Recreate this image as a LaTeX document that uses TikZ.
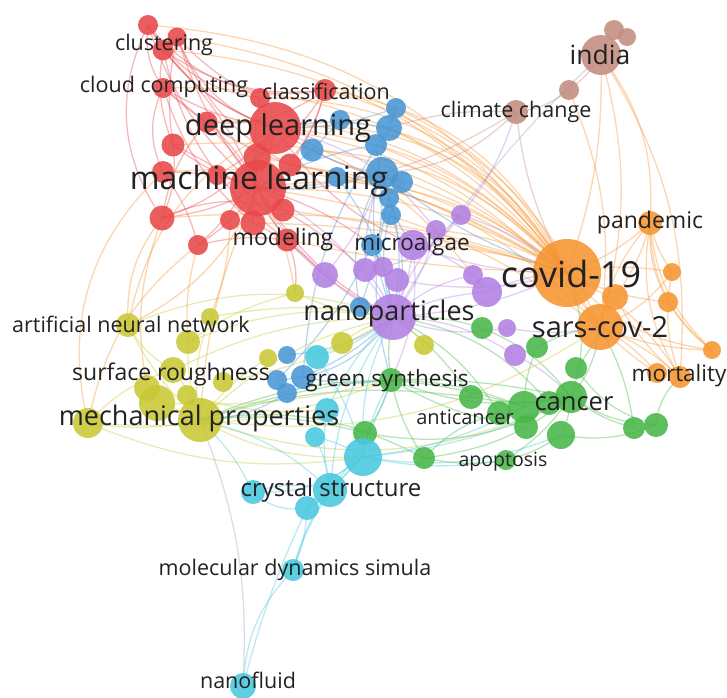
\documentclass[tikz,border=0pt]{standalone}
\usepackage{fontspec}
\setmainfont{Open Sans}
\usetikzlibrary{backgrounds}
\definecolor{vred}{RGB}{232,72,74}
\definecolor{vblue}{RGB}{72,150,212}
\definecolor{vpurple}{RGB}{178,128,226}
\definecolor{vorange}{RGB}{246,148,48}
\definecolor{vbrown}{RGB}{196,140,128}
\definecolor{vgreen}{RGB}{72,182,72}
\definecolor{vyellow}{RGB}{200,200,52}
\definecolor{vcyan}{RGB}{72,200,222}
\definecolor{vtext}{RGB}{34,34,34}
\definecolor{vgrey}{RGB}{150,170,190}

\tikzset{
  bub/.style 2 args={circle, inner sep=0pt, minimum size=#2, fill=#1, fill opacity=0.88},
  edge/.style={draw=#1, draw opacity=0.38, line width=1.3pt},
  lbl/.style={text=vtext, inner sep=0pt, font=\fontsize{#1}{#1}\selectfont},
}

\begin{document}
\begin{tikzpicture}[x=1pt, y=-1pt]
  \useasboundingbox (0,0) rectangle (727,697);

  % bubbles: name/x/y/diameter/colour
  \foreach \n/\x/\y/\d/\c in {
      r1/148/25/20/vred, r2/177/37/19/vred, clus/163/50/21/vred,
      cloud/163/88/20/vred, cls1/260/98/20/vred, cls/325/90/22/vred,
      r3/207/122/21/vred, r4/173/145/23/vred, r5/163/172/22/vred,
      r6/217/175/20/vred, r7/162/218/25/vred, r8/230/220/20/vred,
      r9/253/223/25/vred, r10/290/165/23/vred, r11/283/210/23/vred,
      r12/198/245/20/vred, mod/287/240/23/vred, r13/257/157/27/vred,
      dl/275/128/52/vred, ml/258/188/56/vred,
      b1/396/108/20/vblue, b2/389/128/26/vblue, b3/376/145/22/vblue,
      b4/382/173/32/vblue, b5/402/182/22/vblue, b6/389/198/20/vblue,
      b7/391/215/20/vblue, b8/372/245/22/vblue, b9/312/150/23/vblue,
      b10/340/120/20/vblue, b11/337/177/20/vblue, b12/360/307/20/vblue,
      b13/287/355/18/vblue, b14/277/380/20/vblue, b15/287/393/20/vblue,
      b16/303/377/24/vblue,
      p1/461/215/20/vpurple, p2/436/230/20/vpurple, p3/325/275/26/vpurple,
      p4/365/270/24/vpurple, p5/383/267/20/vpurple, p6/397/280/24/vpurple,
      p7/473/275/20/vpurple, p8/487/292/30/vpurple, p9/507/328/18/vpurple,
      p10/515/355/22/vpurple, malg/413/245/30/vpurple, nano/393/317/46/vpurple,
      o1/615/297/26/vorange, pand/650/223/24/vorange, o2/672/272/18/vorange,
      o3/668/302/20/vorange, o4/712/350/18/vorange, mort/680/377/22/vorange,
      o5/657/373/20/vorange, sars/600/327/46/vorange, cov/567/273/68/vorange,
      n1/614/30/20/vbrown, n2/627/37/18/vbrown, ind/601/55/40/vbrown,
      n3/569/90/20/vbrown, clim/516/112/24/vbrown,
      g1/524/407/32/vgreen, g2/549/403/24/vgreen, g3/561/435/28/vgreen,
      g4/526/427/24/vgreen, g5/576/368/22/vgreen, g6/537/347/22/vgreen,
      g7/482/328/22/vgreen, g8/471/397/24/vgreen, g9/499/413/24/vgreen,
      g10/634/428/22/vgreen, g11/656/425/24/vgreen, g12/424/458/22/vgreen,
      apop/506/460/20/vgreen, gsyn/391/380/24/vgreen, g13/365/433/24/vgreen,
      can/571/397/32/vgreen,
      y1/128/325/24/vyellow, y2/188/342/24/vyellow, y3/210/317/18/vyellow,
      y4/295/293/18/vyellow, y5/173/370/26/vyellow, y6/147/388/26/vyellow,
      y7/157/403/36/vyellow, y8/187/395/20/vyellow, y9/88/423/30/vyellow,
      y10/223/382/20/vyellow, y11/268/358/18/vyellow, y12/342/343/22/vyellow,
      y13/424/345/20/vyellow, mech/200/420/44/vyellow,
      c1/317/357/24/vcyan, c2/327/410/24/vcyan, c3/315/437/20/vcyan,
      c4/363/457/38/vcyan, c5/253/492/24/vcyan, c6/307/508/24/vcyan,
      cry/330/490/34/vcyan, mds/293/570/22/vcyan, nfl/243/686/26/vcyan}
    \node[bub={\c}{\d pt}] (\n) at (\x,\y) {};

  % links
  \begin{scope}[on background layer]
    \foreach \a/\b/\c/\k in {
        r1/ml/vred/-15, r1/dl/vred/-20, r2/ml/vred/-10, r2/dl/vred/-25,
        clus/ml/vred/10, clus/dl/vred/-15, clus/cls/vred/-20, r1/cls1/vred/-25,
        cloud/ml/vred/10, cloud/dl/vred/-10, r1/cloud/vred/-20, r2/cls1/vred/-10,
        r1/r7/vred/-30, clus/r4/vred/-15, r3/ml/vred/10, r4/ml/vred/-10,
        r5/ml/vred/10, r7/ml/vred/-10, r7/dl/vred/-20, r12/ml/vred/-10,
        mod/ml/vred/10, cls/ml/vred/20, cls1/ml/vred/-10, dl/ml/vred/0,
        r4/r7/vred/15, r5/r12/vred/10, cloud/r5/vred/-25, r6/dl/vred/-10,
        r13/cls/vred/-15, r10/cls/vred/-10, r11/dl/vred/20, r9/dl/vred/15,
        r2/r4/vred/-10, clus/mod/vred/-20, cloud/r9/vred/-15, r3/cls/vred/-20,
        r1/cls/vred/-30, r2/r10/vred/-20, cloud/r10/vred/-10, r7/r11/vred/20,
        r4/mod/vred/15, r12/mod/vred/10, r3/r7/vred/-15, r13/r12/vred/15,
        ml/nano/vred/-15, mod/nano/vred/-10, r9/p3/vred/10, dl/malg/vred/-15,
        ml/b8/vred/10, dl/b5/vred/-10, mod/y4/vred/15, r11/p4/vred/5,
        r7/y1/vorange/-20, r12/y2/vorange/-10, r5/y9/vorange/-30, r8/y3/vorange/10,
        r7/y6/vorange/-15, ml/mech/vorange/-10, r12/y9/vorange/-20, dl/y1/vorange/-25,
        cov/ml/vorange/-15, cov/ml/vorange/-24, cov/dl/vorange/-22, cov/dl/vorange/-32,
        cov/cls/vorange/-28, cov/cls1/vorange/-30, cov/b1/vorange/-18, cov/b2/vorange/-15,
        cov/r10/vorange/-14, cov/clus/vorange/-24, cov/r13/vorange/-10, sars/ml/vorange/-14,
        sars/dl/vorange/-22, cov/b4/vorange/-10, cov/r11/vorange/-5, cov/mod/vorange/5,
        cov/r3/vorange/-26, cov/b9/vorange/-22, p8/dl/vorange/-15, cov/cloud/vorange/-26,
        cov/r4/vorange/-22, cov/r5/vorange/-18, cov/r7/vorange/-12, cov/b10/vorange/-26,
        cov/r9/vorange/-8, sars/r10/vorange/-18, cov/r1/vorange/-26, cov/r2/vorange/-22,
        sars/cls/vorange/-26, cov/b3/vorange/-12, cov/malg/vorange/-8, cov/p2/vorange/-12,
        ind/cov/vorange/10, ind/sars/vorange/15, n3/sars/vorange/15, ind/nano/vgrey/-8,
        ind/pand/vorange/20, ind/mort/vorange/18,
        pand/cov/vorange/10, pand/sars/vorange/-15, pand/o2/vorange/-10, pand/o3/vorange/-15,
        pand/mort/vorange/-20, o4/sars/vorange/10, o4/pand/vorange/20, mort/sars/vorange/-10,
        o5/sars/vorange/-10, o2/cov/vorange/-10, o3/cov/vorange/10, o3/o4/vorange/-10,
        o2/mort/vorange/-15, o1/mort/vorange/-10, pand/o1/vorange/10, o4/cov/vorange/20,
        pand/o4/vorange/-25, o2/sars/vorange/15, o5/cov/vorange/15, mort/cov/vorange/-15,
        ind/n3/vbrown/10, n3/clim/vbrown/15, clim/b4/vbrown/20, clim/p1/vpurple/10,
        clim/b2/vbrown/-10, clim/cov/vbrown/-10, clim/ml/vbrown/15,
        b4/ml/vblue/10, b2/dl/vblue/-10, b1/dl/vblue/10, b4/nano/vblue/15,
        b8/nano/vblue/10, b13/nano/vblue/-15, b16/nano/vblue/-10, b3/ml/vblue/-10,
        b5/nano/vblue/-20, b6/malg/vblue/-10, b7/nano/vblue/20, b9/b4/vblue/-10,
        b14/nano/vblue/-25, b15/mech/vblue/15, b12/b4/vblue/20, b11/nano/vblue/15,
        b4/cov/vblue/-10, b2/b16/vblue/-15, b1/nano/vblue/-20, b6/gsyn/vblue/-15,
        b16/gsyn/vblue/-10, b3/b12/vblue/15, b10/ml/vblue/10, b8/b14/vblue/10,
        malg/nano/vpurple/10, p1/nano/vpurple/-15, p2/nano/vpurple/10, p3/nano/vpurple/-10,
        p1/cov/vpurple/10, p8/cov/vpurple/10, malg/cov/vpurple/-10, nano/cov/vpurple/-10,
        p3/ml/vpurple/10, nano/ml/vpurple/-15, p4/b4/vpurple/10, p7/malg/vpurple/-10,
        p9/nano/vpurple/15, p10/nano/vpurple/-15, p6/cov/vpurple/-12, p5/p1/vpurple/-20,
        p8/nano/vpurple/-10, p10/can/vpurple/10, p9/sars/vpurple/-10, malg/gsyn/vpurple/15,
        p4/nano/vpurple/10, p7/nano/vpurple/-15, p3/b4/vpurple/-10, p2/dl/vpurple/-20,
        can/sars/vgreen/-15, can/cov/vgreen/-20, g1/can/vgreen/10, g3/can/vgreen/-10,
        gsyn/nano/vgreen/10, gsyn/can/vgreen/-15, g13/can/vgreen/-20, g12/can/vgreen/-15,
        apop/can/vgreen/-10, g10/can/vgreen/10, g11/can/vgreen/15, g11/mort/vgreen/20,
        g10/sars/vgreen/-10, g8/nano/vgreen/-10, can/mech/vgreen/-15, g13/mech/vgreen/-10,
        g7/nano/vgreen/-10, g6/sars/vgreen/10, g5/sars/vgreen/-10, g9/nano/vgreen/-15,
        g4/gsyn/vgreen/10, g2/nano/vgreen/-20, g8/mech/vgreen/-12, g12/mech/vgreen/-18,
        g1/gsyn/vgreen/-10, g3/apop/vgreen/10, g9/g12/vgreen/-15, g8/can/vgreen/-10,
        g7/can/vgreen/15, g6/g1/vgreen/-10, g5/g11/vgreen/-20, g12/gsyn/vgreen/10,
        apop/g12/vgreen/10, g3/g11/vgreen/-15, g13/gsyn/vgreen/-10, g1/mech/vgreen/-20,
        mech/y1/vyellow/10, y9/mech/vyellow/-10, y5/mech/vyellow/10, y6/mech/vyellow/-10,
        mech/nano/vyellow/15, y4/nano/vyellow/-10, y4/ml/vorange/-10, y1/ml/vorange/-20,
        y12/nano/vyellow/10, y13/nano/vyellow/-10, mech/c4/vyellow/-15, y2/nano/vyellow/15,
        y3/nano/vyellow/10, y2/mech/vyellow/-10, y9/y5/vyellow/15, y1/nano/vyellow/20,
        y11/mech/vyellow/-10, y10/nano/vyellow/-10, mech/sars/vyellow/-20, y9/gsyn/vyellow/-12,
        y1/y5/vyellow/-15, y7/gsyn/vyellow/-8, y5/nano/vyellow/12, y3/mech/vyellow/-15,
        mech/can/vyellow/-22, y2/y4/vyellow/10, y8/c2/vyellow/-10, y9/c4/vyellow/-15,
        cry/c4/vcyan/0, cry/c6/vcyan/10, cry/c5/vcyan/-15, c6/mds/vcyan/10,
        cry/mds/vcyan/-10, c4/mds/vcyan/-15, mds/nfl/vcyan/-20, nfl/mech/vgrey/-12,
        c4/can/vcyan/-10, c4/gsyn/vcyan/10, c1/nano/vcyan/-10, c2/nano/vcyan/10,
        c4/nano/vcyan/15, c5/c4/vcyan/-20, c3/cry/vcyan/10, c4/g1/vcyan/-10,
        cry/mech/vcyan/-15, c4/apop/vcyan/-10, c1/c4/vcyan/10, c2/cry/vcyan/-10,
        c5/c6/vcyan/-25, c6/c4/vcyan/10, cry/nano/vcyan/15, c4/g3/vcyan/-15,
        c5/mech/vcyan/-10, cry/gsyn/vcyan/-10, c3/c4/vcyan/10, c6/nfl/vcyan/-5}
      \draw[edge=\c] (\a.center) to[bend left=\k] (\b.center);
  \end{scope}

  % labels
  \node[lbl=21.5] (tclus) at (164,45) {clustering};
  \node[lbl=21.5] (tcloud) at (164,87) {cloud computing};
  \node[lbl=21.5] (tcls) at (326,91) {classification};
  \node[lbl=29] (tdl) at (278,128) {deep learning};
  \node[lbl=32] (tml) at (259,181) {machine learning};
  \node[lbl=23] (tmod) at (283,240) {modeling};
  \node[lbl=22.5] (tmalg) at (412,245) {microalgae};
  \node[lbl=26.5] (tind) at (600,55) {india};
  \node[lbl=21.5] (tclim) at (516,112) {climate change};
  \node[lbl=23] (tpand) at (650,223) {pandemic};
  \node[lbl=36] (tcov) at (571,274) {covid-19};
  \node[lbl=27] (tnano) at (389,313) {nanoparticles};
  \node[lbl=29] (tsars) at (600,327) {sars-cov-2};
  \node[lbl=21.5] (tann) at (131,324) {artificial neural network};
  \node[lbl=23] (tsurf) at (171,374) {surface roughness};
  \node[lbl=22.5] (tgsyn) at (387,381) {green synthesis};
  \node[lbl=22.5] (tmort) at (679,376) {mortality};
  \node[lbl=27] (tmech) at (199,418) {mechanical properties};
  \node[lbl=25.5] (tcan) at (574,404) {cancer};
  \node[lbl=20] (tanti) at (465,417) {anticancer};
  \node[lbl=19.5] (tapop) at (503,462) {apoptosis};
  \node[lbl=24] (tcry) at (331,490) {crystal structure};
  \node[lbl=21.5] (tmds) at (295,570) {molecular dynamics simula};
  \node[lbl=21.5] (tnfl) at (248,680) {nanofluid};
\end{tikzpicture}
\end{document}
